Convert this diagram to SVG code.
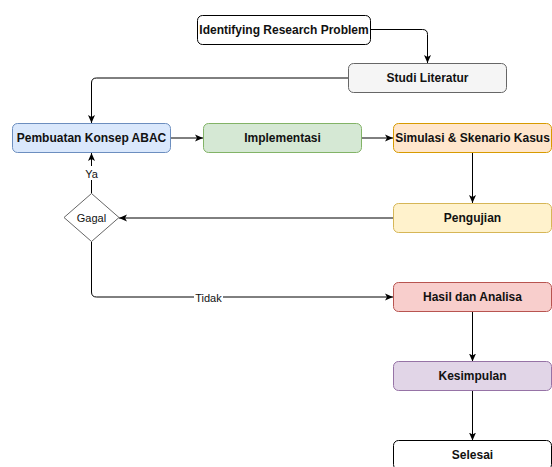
<svg xmlns="http://www.w3.org/2000/svg" width="552" height="467" viewBox="0 0 552 467">
<defs>
<marker id="arr" markerUnits="userSpaceOnUse" markerWidth="10" markerHeight="10" refX="8" refY="4" orient="auto">
<path d="M0,0.5 L8,4 L0,7.5 L2,4 z" fill="#000"/>
</marker>
<style>
.box{stroke-width:1}
.lbl{font-family:"Liberation Sans",Arial,Helvetica,sans-serif;font-size:12px;font-weight:bold;fill:#111;text-anchor:middle;dominant-baseline:central}
.reg{font-family:"Liberation Sans",Arial,Helvetica,sans-serif;font-size:11px;fill:#111;text-anchor:middle;dominant-baseline:central}
.edge{fill:none;stroke:#000;stroke-width:1}
</style>
</defs>
<rect width="552" height="467" fill="#fff"/>
<g id="connectors">
<path class="edge" d="M371,29.5 H422.5 Q427.5,29.5 427.5,34.5 V63" marker-end="url(#arr)"/>
<path class="edge" d="M348,78 H96.5 Q91.5,78 91.5,83 V123" marker-end="url(#arr)"/>
<path class="edge" d="M171,138 H203" marker-end="url(#arr)"/>
<path class="edge" d="M362,138 H393" marker-end="url(#arr)"/>
<path class="edge" d="M472.5,153 V203" marker-end="url(#arr)"/>
<path class="edge" d="M393,218 H119" marker-end="url(#arr)"/>
<path class="edge" d="M91.5,193.5 V153" marker-end="url(#arr)"/>
<path class="edge" d="M91.5,241.5 V292 Q91.5,297 96.5,297 H393" marker-end="url(#arr)"/>
<path class="edge" d="M472.5,311.5 V361.5" marker-end="url(#arr)"/>
<path class="edge" d="M472.5,390.5 V440.5" marker-end="url(#arr)"/>
<rect x="84" y="166" width="15" height="14" fill="#fff"/>
<text class="reg" x="91.5" y="174">Ya</text>
<rect x="194" y="290" width="29" height="14" fill="#fff"/>
<text class="reg" x="208.5" y="297.5">Tidak</text>
</g>
<g id="identifying">
<rect class="box" x="197.5" y="15.5" width="173" height="29" rx="5" fill="#fff" stroke="#000"/>
<text class="lbl" x="284" y="30">Identifying Research Problem</text>
</g>
<g id="studi">
<rect class="box" x="348.5" y="63.5" width="158" height="29" rx="5" fill="#f5f5f5" stroke="#666"/>
<text class="lbl" x="427.5" y="78">Studi Literatur</text>
</g>
<g id="pembuatan">
<rect class="box" x="12.5" y="123.5" width="158" height="29" rx="5" fill="#dae8fc" stroke="#6c8ebf"/>
<text class="lbl" x="91.5" y="138">Pembuatan Konsep ABAC</text>
</g>
<g id="implementasi">
<rect class="box" x="203.5" y="123.5" width="158" height="29" rx="5" fill="#d5e8d4" stroke="#82b366"/>
<text class="lbl" x="282.5" y="138">Implementasi</text>
</g>
<g id="simulasi">
<rect class="box" x="393.5" y="123.5" width="158" height="29" rx="5" fill="#ffe6cc" stroke="#d79b00"/>
<text class="lbl" x="472.5" y="138">Simulasi &amp; Skenario Kasus</text>
</g>
<g id="pengujian">
<rect class="box" x="393.5" y="203.5" width="158" height="29" rx="5" fill="#fff2cc" stroke="#d6b656"/>
<text class="lbl" x="472.5" y="218">Pengujian</text>
</g>
<g id="gagal">
<path d="M91.5,193.5 L119,217.5 L91.5,241.5 L64,217.5 Z" fill="#fff" stroke="#666" stroke-width="1"/>
<text class="reg" x="91.5" y="217.5">Gagal</text>
</g>
<g id="hasil">
<rect class="box" x="393.5" y="282.5" width="158" height="29" rx="5" fill="#f8cecc" stroke="#b85450"/>
<text class="lbl" x="472.5" y="297">Hasil dan Analisa</text>
</g>
<g id="kesimpulan">
<rect class="box" x="393.5" y="361.5" width="158" height="29" rx="5" fill="#e1d5e7" stroke="#9673a6"/>
<text class="lbl" x="472.5" y="376">Kesimpulan</text>
</g>
<g id="selesai">
<rect class="box" x="393.5" y="440.5" width="158" height="29" rx="5" fill="#fff" stroke="#000"/>
<text class="lbl" x="472.5" y="455">Selesai</text>
</g>
</svg>
